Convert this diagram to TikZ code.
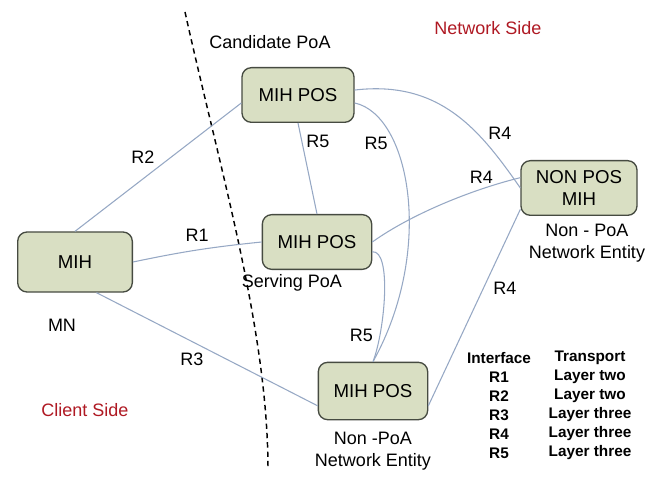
\documentclass[tikz,border=0pt]{standalone}
\usepackage{fontspec}
\setmainfont{Liberation Sans}
\usetikzlibrary{positioning}
\definecolor{myolive}{RGB}{217,223,195}
\definecolor{myedge}{RGB}{70,75,65}
\definecolor{mylink}{RGB}{150,168,196}
\definecolor{myred}{RGB}{175,25,35}

\begin{document}
\begin{tikzpicture}[x=0.75pt,y=-0.75pt,node distance=2pt,
	mihb/.style={
		draw=myedge,
		line width=1pt,
		fill=myolive,
		rounded corners=7pt,
		minimum height=41pt,
		align=center,
		inner sep=2pt,
		font={\fontsize{14}{17}\selectfont}},
	lbl/.style={font={\fontsize{13.5}{16.5}\selectfont},align=center,inner sep=1pt},
	side/.style={lbl,text=myred},
	link/.style={draw=mylink,line width=0.8pt},
	tab/.style={font={\bfseries\fontsize{11.5}{13}\selectfont},inner sep=0pt},
	]
	\useasboundingbox (0,0) rectangle (649,488);
	% boxes
	\node[mihb,minimum width=86pt,minimum height=45pt] (MN) at (75,262) {MIH};
	\node[mihb,minimum width=84pt] (CAND) at (298,95) {MIH POS};
	\node[mihb,minimum width=82pt] (SERV) at (317,242) {MIH POS};
	\node[mihb,minimum width=82pt,minimum height=43pt] (NPOA) at (373,391) {MIH POS};
	\node[mihb,minimum width=87pt] (NONPOS) at (579,188) {NON POS\\MIH};
	% labels
	\node[lbl] (MNL) at (62,325) {MN};
	\node[lbl] (CANDL) at (270,42) {Candidate PoA};
	\node[lbl] (SERVL) at (292,283) {Serving PoA};
	\node[lbl,below=8pt of NPOA] (NPOAL) {Non -PoA\\Network Entity};
	\node[lbl,below=5pt of NONPOS,xshift=6pt] (NONPOSL) {Non - PoA\\Network Entity};
	\node[side] (CLIENT) at (85,410) {Client Side};
	\node[side] (NETW) at (488,28) {Network Side};
	% divider
	\coordinate (DTOP) at (185,12);
	\coordinate (DBOT) at (268,470);
	\draw[dashed,dash pattern=on 4pt off 3pt,line width=1.1pt] (DTOP) .. controls (220,170) and (268,330) .. (DBOT);
	% interfaces
	\draw[link] (MN.north) -- node[lbl,above left=2pt] {R2} (CAND.188);
	\draw[link] (MN.east) to[bend left=3] node[lbl,above=5pt] {R1} (SERV.west);
	\draw[link] (MN.-55) -- node[lbl,below left=2pt] {R3} (NPOA.195);
	\draw[link] (CAND.south) -- node[lbl,pos=0.2,right=2pt] {R5} (SERV.north);
	\draw[link] (CAND.-8) .. controls (410,115) and (435,250) .. node[lbl,pos=0.3,left=4pt] {R5} (NPOA.north);
	\draw[link] (SERV.-10) .. controls (392,250) and (385,330) .. node[lbl,pos=0.78,left=4pt] {R5} (NPOA.north);
	\draw[link] (CAND.5) .. controls (440,80) and (480,130) .. node[lbl,pos=0.72,above right=1pt] {R4} (NONPOS.west);
	\draw[link] (SERV.east) .. controls (410,215) and (470,190) .. node[lbl,pos=0.75,above=3pt] {R4} (NONPOS.170);
	\draw[link] (NPOA.-15) -- node[lbl,pos=0.6,right=6pt] {R4} (NONPOS.200);
	% table
	\node[tab] (IFH) at (499,358) {Interface};
	\node[tab] (TRH) at (590,358) {Transport};
	\foreach \r/\t [count=\i] in {R1/Layer two,R2/Layer two,R3/Layer three,R4/Layer three,R5/Layer three}{
		\node[tab] (IF\i) at (499,{358+19*\i}) {\r};
		\node[tab] (TR\i) at (590,{358+19*\i}) {\t};
	}
\end{tikzpicture}
\end{document}
